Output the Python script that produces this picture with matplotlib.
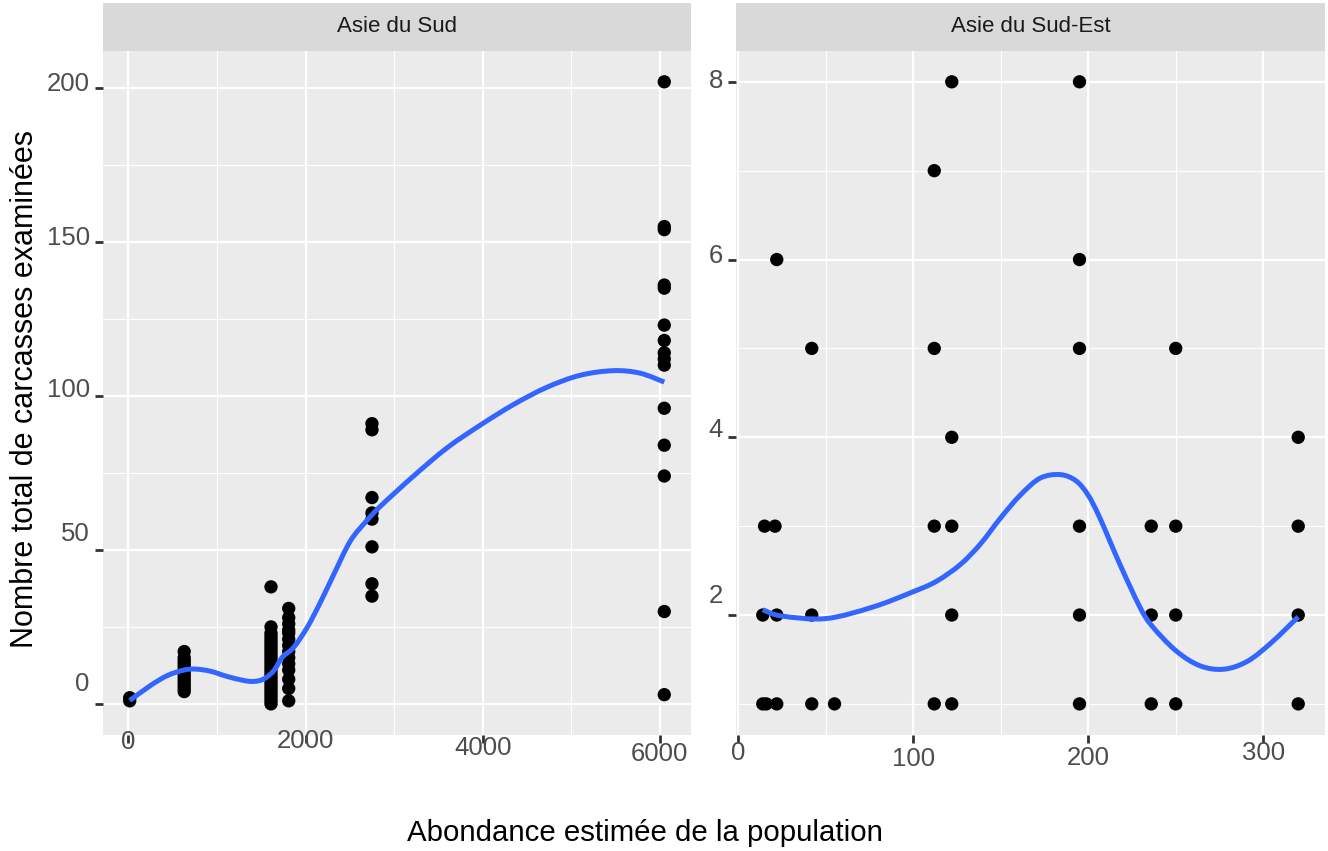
import numpy as np
import matplotlib
matplotlib.use("Agg")
import matplotlib.pyplot as plt
from matplotlib.transforms import ScaledTranslation
from matplotlib.ticker import FixedLocator
from matplotlib.path import Path
from matplotlib.patches import PathPatch

plt.rcParams['font.family'] = ['Liberation Sans', 'DejaVu Sans']

# ---------------- data ----------------
facet_titles = ["Asie du Sud", "Asie du Sud-Est"]
x_title = "Abondance estimée de la population"
y_title = "Nombre total de carcasses examinées"

# Asie du Sud: population abundance (x) and carcasses examined (y)
sud_x_groups = [15, 630, 1610, 1810, 2750, 6050]
sud_y_groups = [
    [1, 2],
    [4, 5, 6, 7, 8, 9, 10, 11, 12, 13, 14, 15, 17],
    [0, 1, 2, 3, 4, 5, 6, 7, 8, 9, 10, 11, 12, 13, 14, 15, 16, 17, 18, 19, 20, 21, 22, 23, 25, 38],
    [1, 5, 8, 11, 13, 15, 17, 19, 21, 23, 24, 26, 28, 31],
    [35, 39, 51, 60, 62, 67, 89, 91],
    [3, 30, 74, 84, 96, 110, 112, 114, 118, 123, 135, 136, 154, 155, 202],
]
# loess smooth
sud_smooth_x = [15, 251, 440, 627, 759, 928, 1116, 1303, 1416, 1529, 1642, 1736, 1867, 2018,
                2168, 2318, 2506, 2694, 2846, 3220, 3596, 3972, 4348, 4724, 5100, 5475, 5776, 6050]
sud_smooth_y = [1.1, 6.0, 9.2, 11.0, 11.3, 10.6, 8.9, 7.6, 7.3, 8.1, 10.8, 15.1, 18.4, 24.8,
                33.0, 42.0, 52.9, 59.6, 64.2, 74.0, 83.1, 90.5, 97.2, 102.8, 106.7, 108.2, 107.4, 104.5]

# Asie du Sud-Est
se_x_groups = [14, 15, 16, 21, 22, 42, 55, 112, 122, 195, 236, 250, 320]
se_y_groups = [
    [1, 2],
    [3],
    [1],
    [3],
    [1, 2, 6],
    [1, 2, 5],
    [1],
    [1, 3, 5, 7],
    [1, 2, 3, 4, 8],
    [1, 2, 3, 5, 6, 8],
    [1, 2, 3],
    [1, 2, 3, 5],
    [1, 2, 3, 4],
]
se_smooth_x = [14, 24.5, 50, 76.9, 99.7, 113.3, 127, 138.4, 149.8, 161.2, 172.5, 184, 193,
               199.9, 206.7, 218.1, 229.5, 236.3, 250, 263.7, 277.4, 291, 304.7, 320]
se_smooth_y = [2.06, 1.99, 1.96, 2.09, 2.26, 2.38, 2.57, 2.80, 3.09, 3.35, 3.54, 3.58, 3.51,
               3.35, 3.09, 2.57, 2.09, 1.88, 1.60, 1.43, 1.39, 1.48, 1.69, 1.98]

sud_xticks = [0, 2000, 4000, 6000]
sud_xminor = [1000, 3000, 5000]
sud_yticks = [0, 50, 100, 150, 200]
sud_yminor = [25, 75, 125, 175]
se_xticks = [0, 100, 200, 300]
se_xminor = [50, 150, 250]
se_yticks = [2, 4, 6, 8]
se_yminor = [1, 3, 5, 7]

# ---------------- figure ----------------
W, H = 1328, 851
fig = plt.figure(figsize=(W / 100, H / 100), dpi=100)


def rect(l, t, r, b):
    return [l / W, 1 - b / H, (r - l) / W, (b - t) / H]


def expand(vals, f=0.05):
    lo, hi = min(vals), max(vals)
    d = (hi - lo) * f
    return lo - d, hi + d


def smooth_path(xs, ys):
    """Smooth (Catmull-Rom style) Bezier path through the read curve points."""
    P = np.column_stack([xs, ys]).astype(float)
    ext = np.vstack([P[0], P, P[-1]])
    verts = [P[0]]
    codes = [Path.MOVETO]
    for i in range(1, len(ext) - 2):
        p0, p1, p2, p3 = ext[i - 1], ext[i], ext[i + 1], ext[i + 2]
        verts += [p1 + (p2 - p0) / 6, p2 - (p3 - p1) / 6, p2]
        codes += [Path.CURVE4] * 3
    return Path(verts, codes)


PANEL_BG = "#EBEBEB"
STRIP_BG = "#D9D9D9"
TICK_COL = "#4D4D4D"

ax1 = fig.add_axes(rect(103, 50.7, 691, 735))
ax2 = fig.add_axes(rect(736, 50.7, 1325, 735))
s1 = fig.add_axes(rect(103, 3, 691, 50.7))
s2 = fig.add_axes(rect(736, 3, 1325, 50.7))

for s, title in zip([s1, s2], facet_titles):
    s.set_facecolor(STRIP_BG)
    s.set_xticks([])
    s.set_yticks([])
    for sp in s.spines.values():
        sp.set_visible(False)
    s.text(0.5, 0.5, title, ha='center', va='center', fontsize=16, color='#1A1A1A',
           transform=s.transAxes)

sud_x = np.concatenate([[x] * len(ys) for x, ys in zip(sud_x_groups, sud_y_groups)])
sud_y = np.concatenate(sud_y_groups)
se_x = np.concatenate([[x] * len(ys) for x, ys in zip(se_x_groups, se_y_groups)])
se_y = np.concatenate(se_y_groups)

panels = [
    (ax1, sud_x, sud_y, sud_smooth_x, sud_smooth_y, sud_xticks, sud_xminor, sud_yticks, sud_yminor),
    (ax2, se_x, se_y, se_smooth_x, se_smooth_y, se_xticks, se_xminor, se_yticks, se_yminor),
]

for ax, x, y, sx, sy, xt, xm, yt, ym in panels:
    ax.set_facecolor(PANEL_BG)
    for sp in ax.spines.values():
        sp.set_visible(False)
    ax.set_axisbelow(True)
    ax.set_xlim(*expand(x))
    ax.set_ylim(*expand(y))
    ax.set_xticks(xt)
    ax.set_xticklabels([str(v) for v in xt])
    ax.set_yticks(yt)
    ax.set_yticklabels([str(v) for v in yt])
    ax.xaxis.set_minor_locator(FixedLocator(xm))
    ax.yaxis.set_minor_locator(FixedLocator(ym))
    ax.grid(which='major', color='white', lw=1.6)
    ax.grid(which='minor', color='white', lw=0.8)
    ax.tick_params(which='major', direction='out', length=5.5, width=2.0, color='#333333',
                   labelsize=18.5, labelcolor=TICK_COL, pad=4.0)
    ax.tick_params(which='minor', length=0)
    ax.scatter(x, y, s=92, c='black', edgecolors='none', zorder=3)
    ax.add_patch(PathPatch(smooth_path(sx, sy), facecolor='none', edgecolor='#3366FF',
                           lw=3.6, zorder=4, capstyle='butt', transform=ax.transData))

fig.text(645 / W, 1 - 833 / H, x_title, ha='center', va='center', fontsize=21.2, color='black')
fig.text(25 / W, 1 - 389 / H, y_title, rotation=90, ha='center', va='center', fontsize=22,
         color='black')

fig.canvas.draw()

# small per-label shifts (pixels, positive = up) as in the reference rendering
x_shift = {ax1: [18, 19, 12, 6], ax2: [7, 1, 2, 7]}
y_shift = {ax1: [22, 18, 8, 6, 6], ax2: [22, 10, 6, 3]}
for ax in (ax1, ax2):
    for tick, dy in zip(ax.xaxis.get_major_ticks(), x_shift[ax]):
        lab = tick.label1
        lab.set_transform(lab.get_transform() + ScaledTranslation(0, dy / 100, fig.dpi_scale_trans))
    for tick, dy in zip(ax.yaxis.get_major_ticks(), y_shift[ax]):
        lab = tick.label1
        lab.set_transform(lab.get_transform() + ScaledTranslation(0, dy / 100, fig.dpi_scale_trans))

fig.savefig("out.png", dpi=100)
